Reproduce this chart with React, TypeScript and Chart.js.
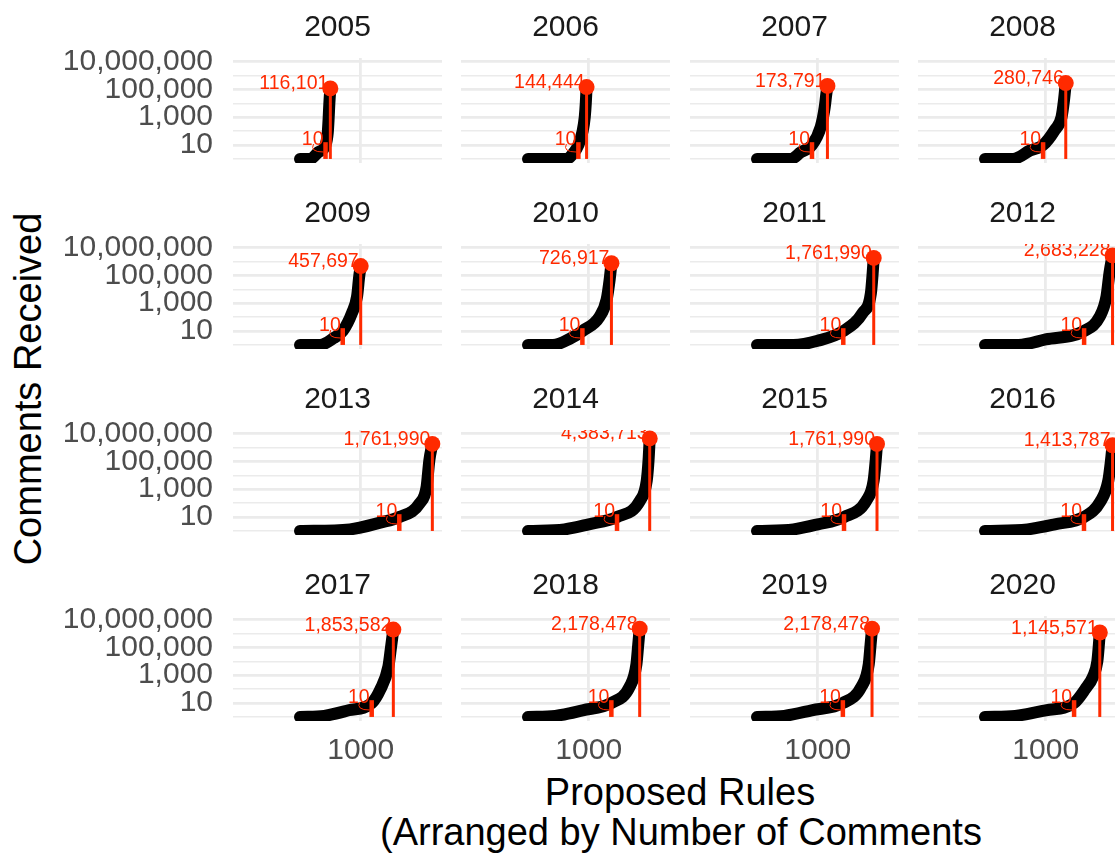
import React, { useEffect, useRef } from 'react';
import { Chart, registerables } from 'chart.js';

Chart.register(...registerables);

const FONT = '"Liberation Sans", Arial, Helvetica, sans-serif';
const RED = '#FF2A00';

// ---------- data ----------
const years = [2005, 2006, 2007, 2008, 2009, 2010, 2011, 2012, 2013, 2014, 2015, 2016, 2017, 2018, 2019, 2020];
const maxComments = [116101, 144444, 173791, 280746, 457697, 726917, 1761990, 2683228, 1761990, 4383713, 1761990, 1413787, 1853582, 2178478, 2178478, 1145571];
const maxRank = [500, 965, 1160, 1330, 1000, 1374, 1922, 2100, 2179, 2004, 1976, 2100, 1537, 1839, 1894, 1890];
const tenRank = [421, 830, 906, 957, 704, 896, 1421, 1632, 1635, 1466, 1433, 1630, 1181, 1373, 1414, 1467];
const tenLabel = 10;
const tenBarTop = 16;

// sorted comment curves per year: [rank, comments]
const curve2005 = [[1, 1], [170, 1], [300, 3], [421, 10], [458, 80], [472, 800], [484, 10000], [500, 116101]];
const curve2006 = [[1, 1], [630, 1], [760, 3], [830, 10], [900, 100], [935, 1000], [952, 10000], [965, 144444]];
const curve2007 = [[1, 1], [560, 1], [720, 3], [906, 10], [1050, 200], [1115, 5000], [1140, 40000], [1160, 173791]];
const curve2008 = [[1, 1], [460, 1], [740, 4], [957, 10], [1150, 120], [1260, 1000], [1300, 15000], [1330, 280746]];
const curve2009 = [[1, 1], [330, 1], [550, 3], [704, 10], [857, 200], [940, 3000], [975, 80000], [1000, 457697]];
const curve2010 = [[1, 1], [410, 1], [700, 3], [896, 10], [1180, 110], [1295, 1800], [1345, 50000], [1374, 726917]];
const curve2011 = [[1, 1], [600, 1], [1000, 2], [1421, 10], [1740, 200], [1875, 5000], [1905, 150000], [1922, 1761990]];
const curve2012 = [[1, 1], [550, 1], [1000, 2.5], [1632, 10], [1890, 110], [2000, 3000], [2050, 150000], [2100, 2683228]];
const curve2013 = [[1, 1], [820, 1.3], [1320, 4], [1635, 10], [1975, 100], [2085, 1500], [2130, 120000], [2179, 1761990]];
const curve2014 = [[1, 1], [600, 1.3], [1000, 3], [1466, 10], [1845, 150], [1955, 4000], [1985, 120000], [2004, 4383713]];
const curve2015 = [[1, 1], [600, 1.3], [1000, 3], [1433, 10], [1800, 150], [1920, 4000], [1955, 120000], [1976, 1761990]];
const curve2016 = [[1, 1], [700, 1.3], [1150, 3], [1630, 10], [1900, 130], [2030, 4000], [2075, 120000], [2100, 1413787]];
const curve2017 = [[1, 1], [400, 1.2], [800, 3], [1181, 10], [1320, 90], [1455, 4000], [1500, 110000], [1537, 1853582]];
const curve2018 = [[1, 1], [450, 1.2], [900, 3], [1373, 10], [1675, 150], [1785, 6000], [1815, 150000], [1839, 2178478]];
const curve2019 = [[1, 1], [450, 1.2], [900, 3], [1414, 10], [1720, 150], [1840, 6000], [1870, 150000], [1894, 2178478]];
const curve2020 = [[1, 1], [500, 1.2], [1000, 3], [1467, 10], [1650, 100], [1780, 800], [1850, 10000], [1875, 150000], [1890, 1145571]];
const curves = [curve2005, curve2006, curve2007, curve2008, curve2009, curve2010, curve2011, curve2012,
  curve2013, curve2014, curve2015, curve2016, curve2017, curve2018, curve2019, curve2020];

const yTickValues = [10, 1000, 100000, 10000000];
const yGridValues = [1, 10, 100, 1000, 10000, 100000, 1000000, 10000000];
const xTickValues = [1000];

// ---------- layout ----------
const PANEL_LEFT = [233, 461, 690, 918];
const PANEL_TOP = [58, 244, 430, 616];
const PW = 209;
const PH = 105;
const YW = 175;
const TH = 50;
const XH = 50;
const XMIN = -1102;
const XMAX = 2338;
const YMIN = Math.pow(10, -0.29);
const YMAX = Math.pow(10, 7.245);

const annotPlugin = {
  id: 'annot',
  afterDatasetsDraw(chart: any, _args: any, opts: any) {
    const i = opts.index;
    const { ctx, chartArea: a } = chart;
    const xs = chart.scales.x;
    const ys = chart.scales.y;
    ctx.save();
    ctx.beginPath();
    ctx.rect(a.left, a.top, a.right - a.left, a.bottom - a.top);
    ctx.clip();
    ctx.fillStyle = RED;
    ctx.font = `19.5px ${FONT}`;
    ctx.textAlign = 'right';
    ctx.textBaseline = 'alphabetic';
    const px = xs.getPixelForValue(maxRank[i]);
    const py = ys.getPixelForValue(maxComments[i]);
    ctx.fillText(maxComments[i].toLocaleString('en-US'), px - 2, py + 1);
    const tx = xs.getPixelForValue(tenRank[i]);
    const ty = ys.getPixelForValue(tenLabel);
    ctx.fillText(String(tenLabel), tx - 2, ty);
    ctx.strokeStyle = RED;
    ctx.lineWidth = 1;
    ctx.beginPath();
    ctx.moveTo(tx - 12, ty - 1);
    ctx.quadraticCurveTo(tx - 16, ty + 7, tx - 2, ty + 7);
    ctx.stroke();
    ctx.restore();
  },
};

function zeroPad(s: any) {
  s.paddingTop = 0;
  s.paddingBottom = 0;
  s.paddingLeft = 0;
  s.paddingRight = 0;
}

function Panel({ index }: { index: number }) {
  const ref = useRef<HTMLCanvasElement | null>(null);
  const row = Math.floor(index / 4);
  const col = index % 4;
  const w = PW + (col === 0 ? YW : 0);
  const h = TH + PH + (row === 3 ? XH : 0);
  const left = PANEL_LEFT[col] - (col === 0 ? YW : 0);
  const top = PANEL_TOP[row] - TH;

  useEffect(() => {
    if (!ref.current) return;
    const curve = curves[index];
    const chart = new Chart(ref.current, {
      type: 'line',
      data: {
        datasets: [
          {
            data: [{ x: maxRank[index], y: maxComments[index] }],
            showLine: false,
            pointRadius: 8,
            pointBackgroundColor: RED,
            pointBorderWidth: 0,
            order: 0,
            clip: 0,
          },
          {
            data: [{ x: maxRank[index], y: 1 }, { x: maxRank[index], y: maxComments[index] }],
            borderColor: RED,
            borderWidth: 3,
            pointRadius: 0,
            order: 1,
            clip: 0,
          },
          {
            data: [{ x: tenRank[index], y: 1 }, { x: tenRank[index], y: tenBarTop }],
            borderColor: RED,
            borderWidth: 4.5,
            pointRadius: 0,
            order: 1,
            clip: 0,
          },
          {
            data: curve.map(([x, y]) => ({ x, y })),
            borderColor: '#000000',
            borderWidth: 12,
            borderCapStyle: 'round',
            borderJoinStyle: 'round',
            cubicInterpolationMode: 'monotone',
            pointRadius: 0,
            order: 2,
            clip: 0,
          },
        ],
      } as any,
      options: {
        animation: false,
        responsive: false,
        maintainAspectRatio: false,
        devicePixelRatio: 1,
        layout: { padding: 0, autoPadding: false },
        events: [],
        plugins: {
          legend: { display: false },
          tooltip: { enabled: false },
          title: {
            display: true,
            fullSize: false,
            text: String(years[index]),
            color: '#1A1A1A',
            font: { family: FONT, size: 30, weight: 'normal', lineHeight: 1.2 },
            padding: { top: 2, bottom: 12 },
          },
          annot: { index },
        } as any,
        scales: {
          x: {
            type: 'linear',
            min: XMIN,
            max: XMAX,
            border: { display: false },
            grid: { color: '#EBEBEB', lineWidth: 2.8, drawTicks: false },
            ticks: {
              display: row === 3,
              autoSkip: false,
              maxRotation: 0,
              color: '#4D4D4D',
              font: { family: FONT, size: 30 },
              padding: 12,
              callback: (v: any) => String(v),
            },
            afterBuildTicks: (s: any) => {
              s.ticks = xTickValues.map((v) => ({ value: v }));
            },
            afterFit: (s: any) => {
              s.height = row === 3 ? XH : 0;
              zeroPad(s);
            },
          },
          y: {
            type: 'logarithmic',
            min: YMIN,
            max: YMAX,
            border: { display: false },
            grid: {
              color: '#EBEBEB',
              drawTicks: false,
              lineWidth: (c: any) => (c.tick && yTickValues.includes(c.tick.value) ? 2.8 : 1.4),
            },
            ticks: {
              display: col === 0,
              autoSkip: false,
              color: '#4D4D4D',
              font: { family: FONT, size: 30 },
              padding: 20,
              callback: (v: any) => (yTickValues.includes(Number(v)) ? Number(v).toLocaleString('en-US') : ''),
            },
            afterBuildTicks: (s: any) => {
              s.ticks = yGridValues.map((v) => ({ value: v }));
            },
            afterFit: (s: any) => {
              s.width = col === 0 ? YW : 0;
              zeroPad(s);
            },
          },
        },
      } as any,
      plugins: [annotPlugin],
    });
    return () => chart.destroy();
  }, [index]);

  return (
    <canvas
      ref={ref}
      width={w}
      height={h}
      style={{ position: 'absolute', left, top, width: w, height: h }}
    />
  );
}

export default function App() {
  return (
    <div
      style={{
        position: 'fixed',
        left: 0,
        top: 0,
        width: 1115,
        height: 855,
        overflow: 'hidden',
        background: '#FFFFFF',
        fontFamily: FONT,
      }}
    >
      {years.map((y, i) => (
        <Panel key={y} index={i} />
      ))}
      <div
        style={{
          position: 'absolute',
          left: 27.5,
          top: 389,
          transform: 'translate(-50%, -50%) rotate(-90deg)',
          fontSize: 38,
          lineHeight: '38px',
          whiteSpace: 'nowrap',
          color: '#000000',
        }}
      >
        Comments Received
      </div>
      <div
        style={{
          position: 'absolute',
          left: 380,
          width: 600,
          top: 772,
          textAlign: 'center',
          fontSize: 38,
          lineHeight: '40px',
          whiteSpace: 'nowrap',
          color: '#000000',
        }}
      >
        <div>Proposed Rules</div>
        <div>(Arranged by Number of Comments</div>
      </div>
    </div>
  );
}
